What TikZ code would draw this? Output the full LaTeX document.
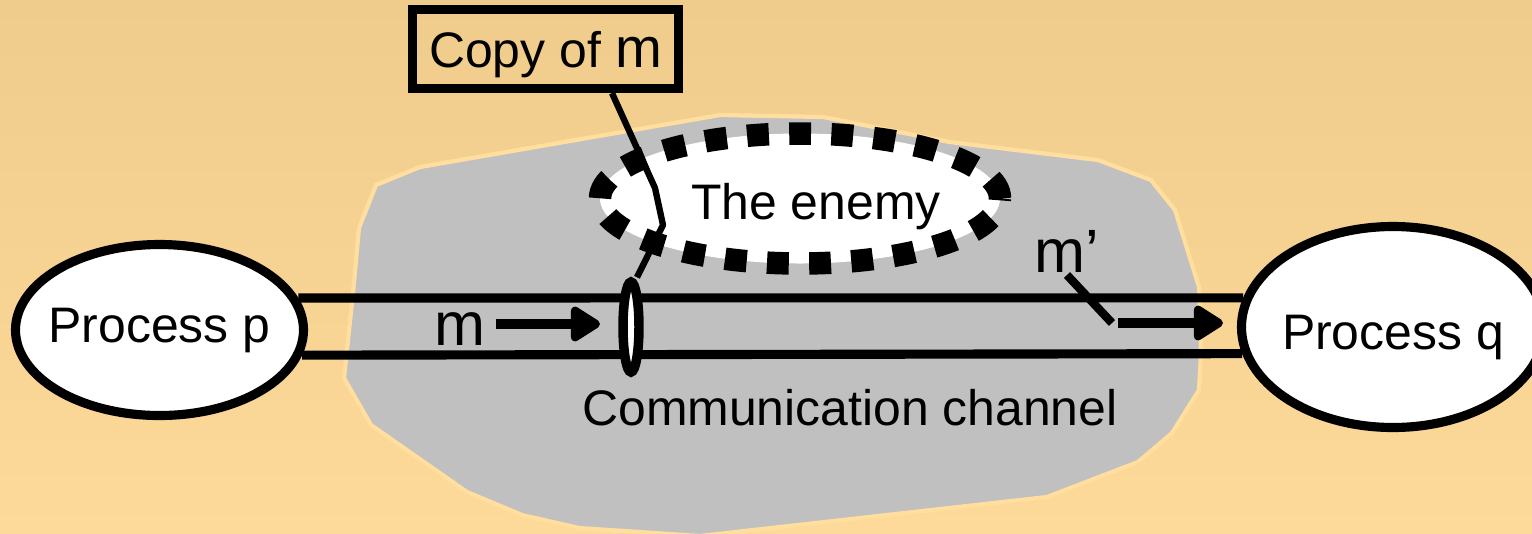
\documentclass[tikz,border=0pt]{standalone}
\usepackage{fontspec}
\setmainfont{Liberation Sans}
\usetikzlibrary{shapes.geometric,arrows.meta}
\definecolor{bgtop}{RGB}{239,203,140}
\definecolor{bgbot}{RGB}{253,218,154}
\definecolor{rim}{RGB}{255,222,158}
\definecolor{chgray}{RGB}{192,192,192}

\begin{document}
\begin{tikzpicture}[
  txt/.style={font=\fontsize{14.2}{17}\selectfont, inner sep=1mm},
  big/.style={font=\fontsize{17.4}{20}\selectfont, inner sep=1mm},
  proc/.style={ellipse, draw, fill=white, line width=2.6pt, inner sep=0pt},
  pipe/.style={line width=2.6pt},
  wire/.style={line width=1.8pt, line join=round},
  msg/.style={line width=2.6pt, -{Triangle[length=3.3mm,width=3.9mm,round]}}]
\useasboundingbox (0,0) rectangle (15.32,-5.33);
\clip (0,0) rectangle (15.32,-5.33);
\shade[top color=bgtop, bottom color=bgbot] (0,0) rectangle (15.32,-5.33);
\filldraw[fill=chgray, draw=rim, line width=1.2pt] (3.76,-1.85) -- (4.20,-1.67) -- (7.20,-1.15) -- (8.23,-1.17) -- (9.50,-1.42) -- (10.98,-1.60) -- (11.51,-1.80) -- (11.75,-2.10) -- (11.99,-2.87) -- (12.01,-3.53) -- (11.99,-3.90) -- (11.72,-4.33) -- (11.38,-4.62) -- (10.47,-4.97) -- (7.00,-5.36) -- (5.79,-5.28) -- (5.22,-5.15) -- (4.67,-4.92) -- (3.71,-4.25) -- (3.44,-3.78) -- (3.53,-2.93) -- (3.59,-2.28) -- cycle;
\node[proc, minimum width=2.88cm, minimum height=1.71cm, label={[txt]center:Process p}] (procp) at (1.595,-3.30) {};
\node[proc, minimum width=3.03cm, minimum height=2.01cm, label={[txt,yshift=-1mm]center:Process q}] (procq) at (13.93,-3.27) {};
\draw[pipe] (procp.13) -- (procq.169);
\draw[pipe] (procp.350) -- (procq.190);
\node[proc, line width=2.7pt, minimum width=0.16cm, minimum height=0.90cm] (tap) at (6.31,-3.27) {};
\node[proc, line width=6.4pt, dash pattern=on 6.2pt off 5.8pt, minimum width=4.00cm, minimum height=1.30cm, label={[txt,xshift=1.6mm,yshift=-0.8mm]center:The enemy}] (enemy) at (8.00,-1.985) {};
\node[txt, draw, line width=2.6pt, minimum width=2.66cm, minimum height=0.79cm, text depth=0pt] (copym) at (5.455,-0.49) {Copy of {\fontsize{16}{17}\selectfont m}};
\draw[wire] ([xshift=6.65mm]copym.south) -- (6.55,-1.88) -- (6.63,-2.25) -- ([xshift=0.6mm]tap.north);
\node[big, anchor=base] (mtxt) at (4.60,-3.45) {m};
\node[big, anchor=base] (mptxt) at (10.67,-2.72) {m’};
\node[txt, anchor=base] (chlbl) at (8.50,-4.25) {Communication channel};
\coordinate (mtip) at (6.00,-3.24);
\draw[msg] (mtxt.east |- mtip) -- (mtip);
\coordinate (mpbend) at (11.12,-3.23);
\coordinate (mptip) at (12.23,-3.23);
\draw[wire, line width=2.4pt] ([yshift=-0.3mm]mptxt.base) -- (mpbend);
\draw[msg] ([xshift=0.6mm]mpbend) -- (mptip);
\end{tikzpicture}
\end{document}
